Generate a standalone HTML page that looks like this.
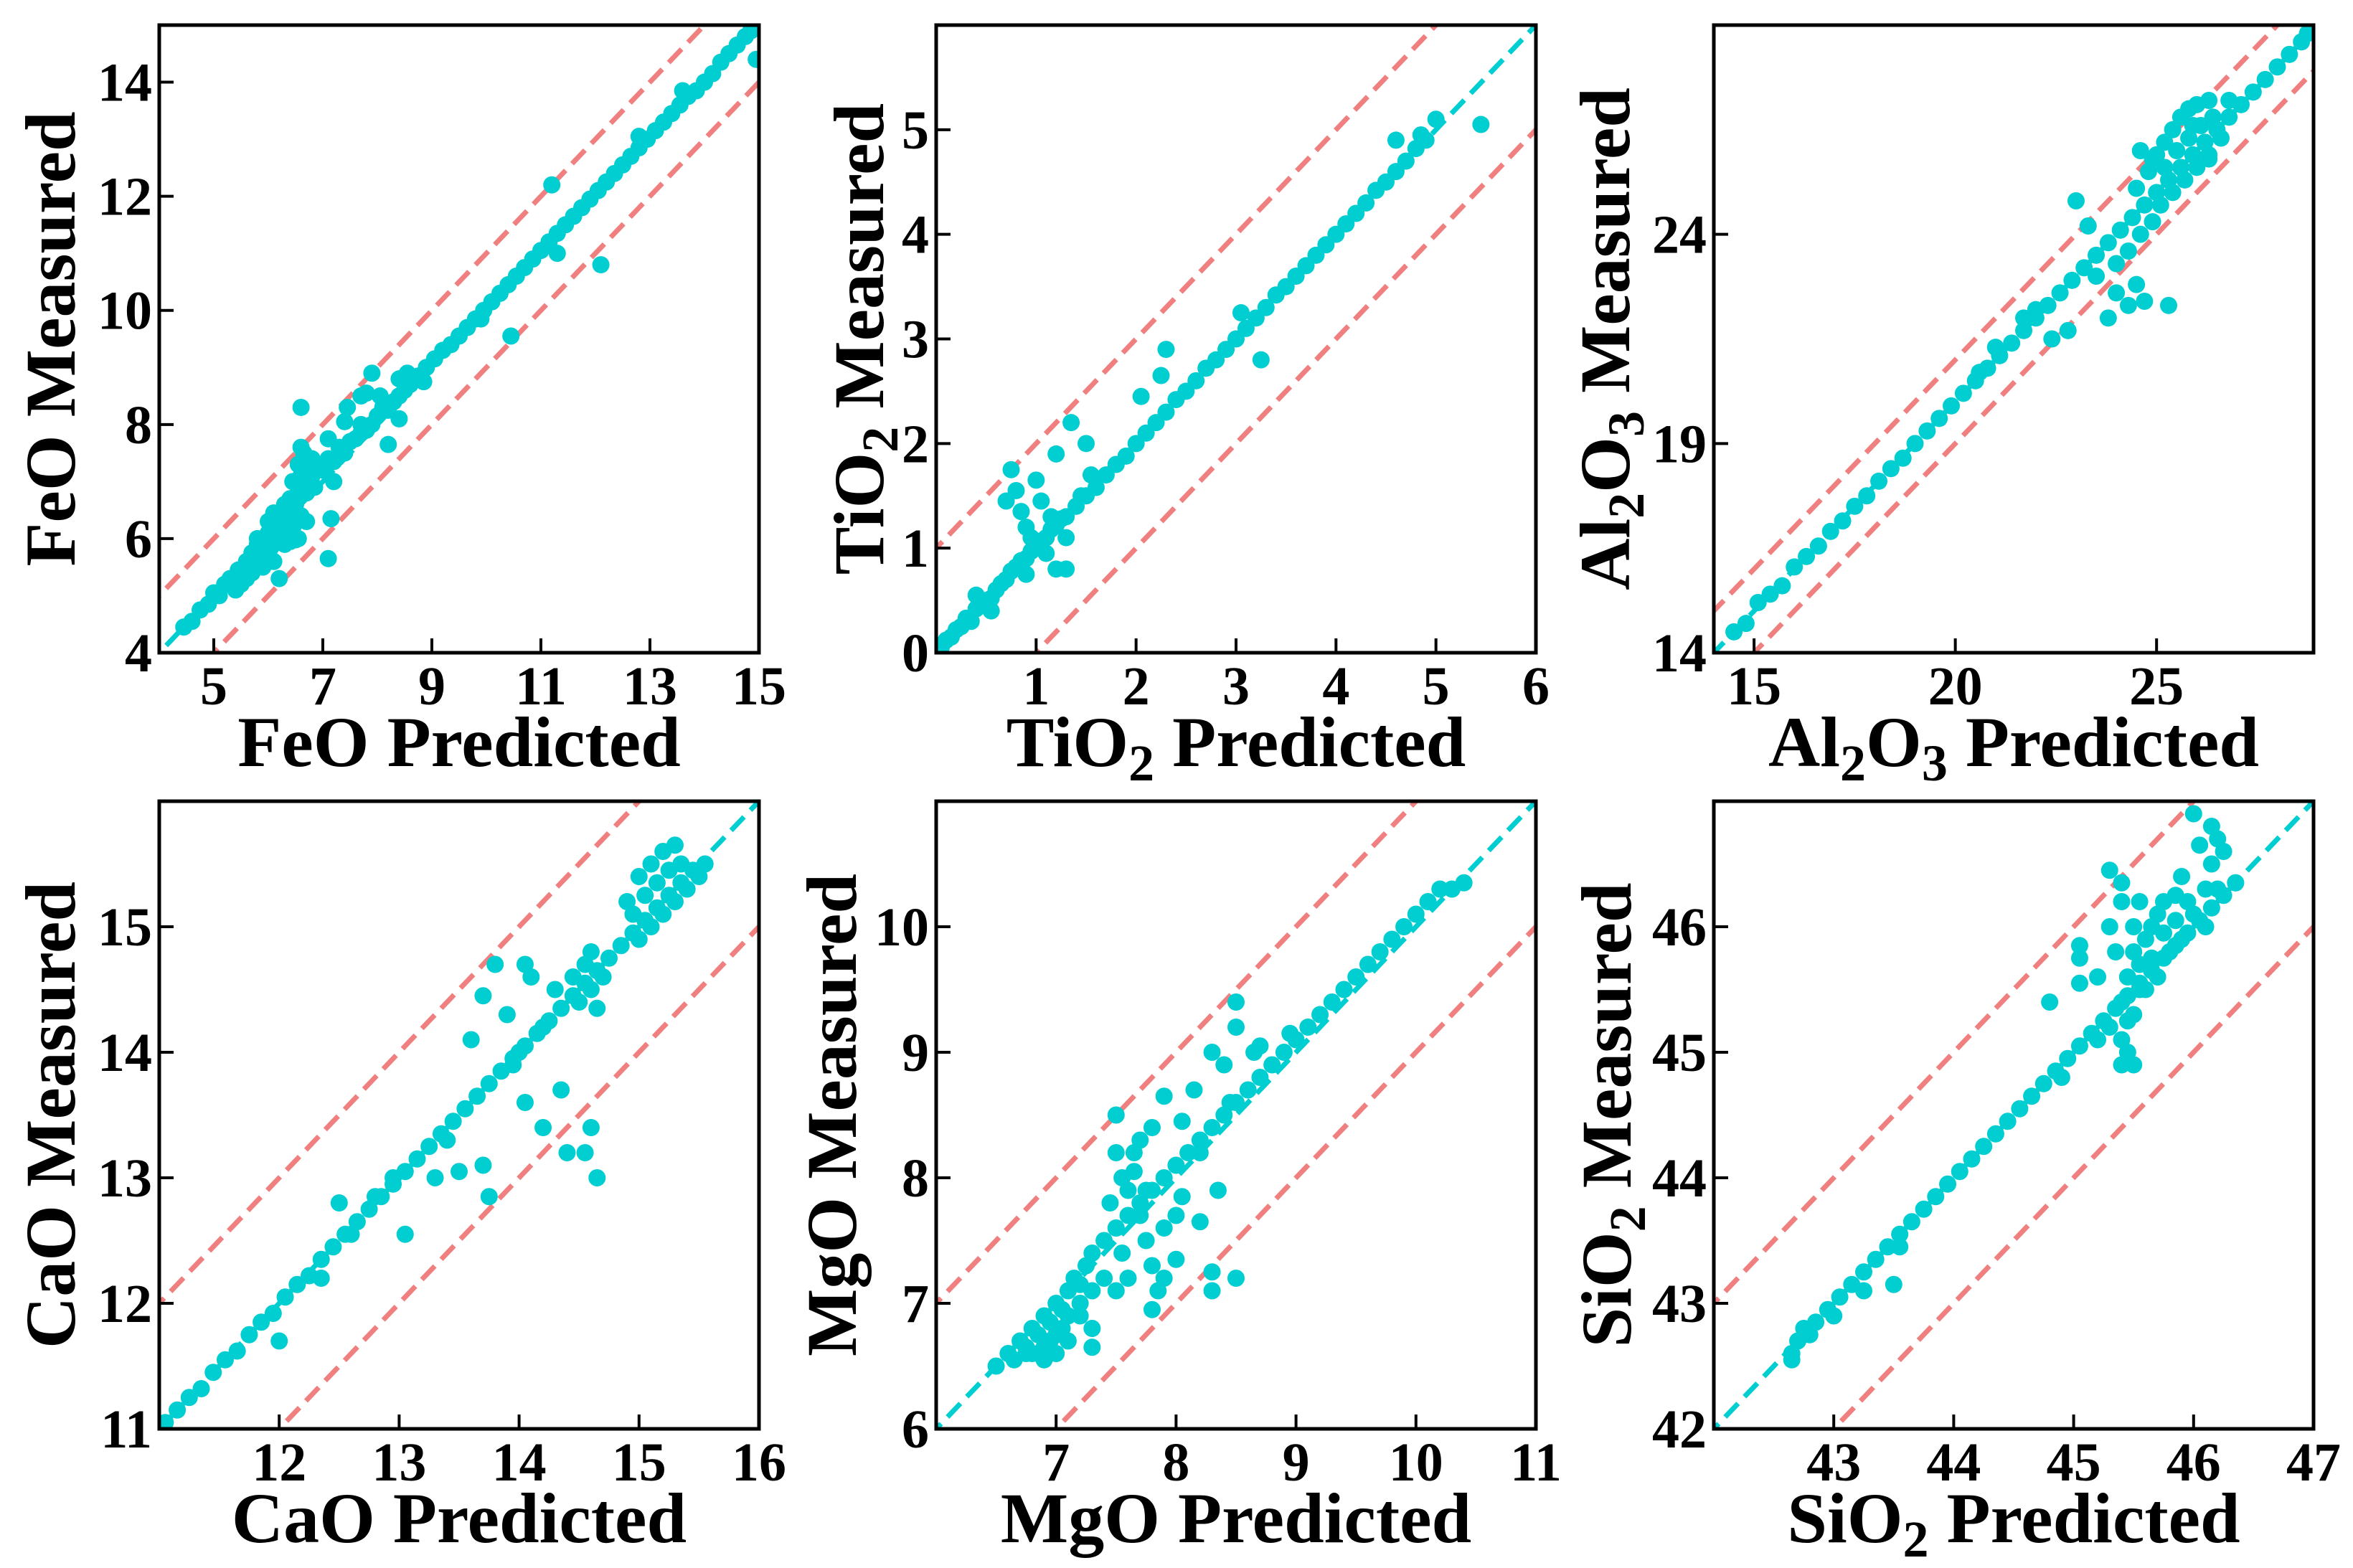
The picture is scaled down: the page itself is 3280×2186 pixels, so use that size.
<!DOCTYPE html>
<html><head><meta charset="utf-8"><style>
html,body{margin:0;padding:0;background:#fff;overflow:hidden;}
svg{display:block;}
text{font-family:"Liberation Serif",serif;font-weight:bold;fill:#000;}
</style></head><body>
<svg id="fig" width="3280" height="2186" viewBox="0 0 3280 2186" xmlns="http://www.w3.org/2000/svg"></svg>
<script>
const feoPoints=[[4.45,4.45],[4.6,4.55],[4.75,4.75],[4.9,4.85],[5.0,5.05],[5.1,5.0],[5.2,5.2],[5.3,5.3],[5.35,5.2],[5.45,5.45],[5.5,5.35],[5.6,5.6],[5.65,5.45],[5.7,5.75],[5.75,5.55],[5.8,5.9],[5.85,5.65],[5.9,6.0],[5.95,5.8],[6.0,6.1],[6.05,5.85],[6.1,6.2],[6.15,5.95],[6.2,6.3],[6.25,6.05],[6.3,6.35],[6.35,6.1],[6.4,6.5],[6.45,6.2],[6.5,6.6],[6.55,6.9],[6.6,7.1],[6.55,7.3],[6.65,7.5],[6.6,7.0],[6.7,6.8],[6.75,7.2],[6.8,7.4],[6.85,6.9],[6.9,7.3],[7.0,7.2],[7.1,7.4],[7.2,7.35],[7.3,7.6],[7.4,7.5],[7.5,7.7],[7.6,7.75],[7.7,7.85],[7.8,7.9],[7.9,8.0],[8.0,8.15],[8.1,8.3],[8.2,8.25],[8.3,8.4],[8.4,8.5],[8.5,8.6],[8.6,8.7],[8.75,8.85],[8.9,9.0],[9.05,9.15],[9.2,9.3],[9.35,9.4],[9.5,9.55],[9.65,9.7],[9.8,9.85],[9.95,10.0],[10.1,10.15],[10.25,10.3],[10.4,10.45],[10.55,10.6],[10.7,10.75],[10.85,10.9],[11.0,11.05],[11.15,11.2],[11.3,11.35],[11.45,11.5],[11.6,11.65],[11.75,11.8],[11.9,11.95],[12.05,12.1],[12.2,12.25],[12.35,12.4],[12.5,12.55],[12.65,12.7],[12.8,12.85],[12.95,13.0],[13.1,13.15],[13.25,13.3],[13.4,13.45],[13.55,13.6],[13.7,13.75],[13.85,13.85],[14.0,14.0],[14.15,14.15],[14.3,14.35],[14.45,14.5],[14.6,14.65],[14.75,14.8],[14.85,14.9],
[5.5,5.2],[5.7,5.4],[6.0,5.7],[6.3,5.9],[6.4,5.95],[5.8,6.0],[6.0,6.3],[6.2,6.4],[6.4,6.7],[6.6,6.4],[6.7,6.3],[6.45,7.0],[6.6,7.6],[6.7,7.4],[6.8,7.1],[5.4,5.1],[5.6,5.3],[5.9,5.5],[6.1,5.6],[6.3,6.6],[6.1,6.45],[6.5,6.3],[6.55,6.0],
[6.6,8.3],[7.9,8.9],[8.4,8.8],[8.55,8.9],[7.7,8.5],[7.8,8.55],[7.45,8.3],[7.4,8.05],[7.1,7.75],[7.7,8.0],[8.2,7.65],[7.1,5.65],[6.2,5.3],[7.15,6.35],[6.5,5.98],[10.45,9.55],[11.2,12.2],[12.1,10.8],[14.95,14.4],[8.85,8.75],[11.3,11.0],[9.9,9.85],[8.05,8.5],[8.4,8.1],[12.8,13.05],[13.6,13.85],[7.2,7.0]];
const tioPoints=[[0.05,0.05],[0.1,0.12],[0.15,0.15],[0.2,0.22],[0.25,0.25],[0.3,0.33],[0.35,0.3],[0.4,0.42],[0.45,0.45],[0.5,0.5],[0.55,0.52],[0.6,0.6],[0.65,0.66],[0.7,0.7],[0.75,0.78],[0.8,0.82],[0.85,0.88],[0.9,0.9],[0.95,0.97],[1.0,1.0],[1.05,1.07],[1.1,1.1],[1.15,1.18],[1.2,1.22],[1.25,1.28],[1.3,1.3],[1.4,1.4],[1.5,1.5],[1.6,1.58],[1.7,1.7],[1.8,1.8],[1.9,1.88],[2.0,2.0],[2.1,2.1],[2.2,2.2],[2.3,2.3],[2.4,2.42],[2.5,2.5],[2.6,2.6],[2.7,2.72],[2.8,2.8],[2.9,2.9],[3.0,3.0],[3.1,3.1],[3.2,3.2],[3.3,3.3],[3.4,3.42],[3.5,3.5],[3.6,3.6],[3.7,3.7],[3.8,3.8],[3.9,3.9],[4.0,4.0],[4.1,4.1],[4.2,4.2],[4.3,4.3],[4.4,4.42],[4.5,4.5],[4.6,4.6],[4.7,4.7],[4.8,4.82],[4.9,4.9],
[0.75,1.75],[0.8,1.55],[0.85,1.35],[0.7,1.45],[0.9,1.2],[1.0,1.65],[1.05,1.45],[0.9,0.75],[1.2,0.8],[1.3,0.8],[1.35,2.2],[1.2,1.9],[1.45,1.5],[1.3,1.1],[0.95,1.1],[1.1,0.95],[1.15,1.3],[2.3,2.9],[2.25,2.65],[2.05,2.45],[3.25,2.8],[4.6,4.9],[4.85,4.95],[5.0,5.1],[5.45,5.05],[0.55,0.4],[0.4,0.55],[1.5,2.0],[1.55,1.7],[3.05,3.25]];
const alPoints=[[14.5,14.5],[14.8,14.7],[15.1,15.2],[15.4,15.4],[15.7,15.6],[16.0,16.05],[16.3,16.3],[16.6,16.55],[16.9,16.9],[17.2,17.15],[17.5,17.5],[17.8,17.75],[18.1,18.1],[18.4,18.4],[18.7,18.65],[19.0,19.0],[19.3,19.3],[19.6,19.6],[19.9,19.9],[20.2,20.2],[20.5,20.5],[20.8,20.8],[21.1,21.1],[21.4,21.4],[21.7,21.7],[22.0,22.0],[22.3,22.3],[22.6,22.6],[22.9,22.9],[23.2,23.2],[23.5,23.5],[23.8,23.8],[24.1,24.1],[24.4,24.4],[24.7,24.7],[25.0,25.0],[25.3,25.3],[25.6,25.6],[25.9,25.9],[26.2,26.2],[26.5,26.5],[26.8,26.8],[27.1,27.1],[27.4,27.4],[27.7,27.7],[28.0,28.0],[28.3,28.3],[28.6,28.6],[28.75,28.8],
[24.5,25.1],[24.8,25.5],[25.0,25.9],[25.2,26.2],[25.4,26.5],[25.6,26.8],[25.8,27.0],[26.0,27.1],[26.3,27.2],[25.1,24.7],[25.4,25.0],[25.7,25.3],[26.0,25.6],[26.3,25.9],[26.6,26.3],[25.5,26.0],[25.8,26.3],[26.1,26.6],[26.4,26.8],[24.9,24.3],[24.6,24.0],[24.3,23.6],[26.8,27.2],[25.2,25.6],[25.9,26.6],
[24.0,22.6],[24.3,22.3],[24.5,22.8],[24.7,22.4],[25.3,22.3],[24.0,23.3],[23.8,22.0],[22.4,21.5],[22.8,21.7],[21.7,22.0],[24.9,25.8],[23.0,24.8],[23.3,24.2],[20.6,20.7],[22.0,22.2],[24.6,26.0],[23.5,23.0],[21.0,21.3],[26.3,25.8]];
const caoPoints=[[11.05,11.05],[11.15,11.15],[11.25,11.25],[11.35,11.32],[11.45,11.45],[11.55,11.55],[11.65,11.62],[11.75,11.75],[11.85,11.85],[11.95,11.92],[12.05,12.05],[12.15,12.15],[12.25,12.22],[12.35,12.35],[12.45,12.45],[12.55,12.55],[12.65,12.65],[12.75,12.75],[12.85,12.85],[12.95,12.95],[13.05,13.05],[13.15,13.15],[13.25,13.25],[13.35,13.35],[13.45,13.45],[13.55,13.55],[13.65,13.65],[13.75,13.75],[13.85,13.85],[13.95,13.95],[14.05,14.05],[14.15,14.15],[14.25,14.25],[14.35,14.35],[14.45,14.45],[14.55,14.55],[14.65,14.65],[14.75,14.75],[14.85,14.85],[14.95,14.95],[15.05,15.05],[15.15,15.15],[15.25,15.25],[15.35,15.35],[15.45,15.45],[15.55,15.5],
[14.45,14.6],[14.55,14.7],[14.6,14.5],[14.7,14.6],[14.5,14.4],[14.65,14.35],[14.6,14.8],[14.9,15.2],[15.0,15.4],[15.1,15.5],[15.2,15.6],[15.3,15.65],[15.0,14.9],[15.1,15.0],[15.2,15.1],[15.3,15.2],[15.4,15.3],[15.15,15.35],[15.25,15.45],[14.95,15.1],[15.35,15.5],[15.05,15.25],[15.5,15.4],
[13.8,14.7],[14.05,14.7],[14.1,14.6],[13.9,14.3],[13.7,14.45],[13.6,14.1],[14.2,14.2],[13.95,13.9],[14.05,13.6],[14.35,13.7],[14.4,13.2],[14.55,13.2],[14.6,13.4],[14.65,13.0],[13.5,13.05],[13.7,13.1],[13.75,12.85],[13.3,13.0],[13.05,12.55],[12.8,12.85],[12.6,12.55],[12.95,13.0],[12.0,11.7],[12.35,12.2],[14.2,13.4],[14.0,14.0],[13.4,13.3],[14.3,14.5],[12.5,12.8]];
const mgoPoints=[[6.5,6.5],[6.6,6.6],[6.65,6.55],[6.7,6.7],[6.75,6.65],[6.8,6.8],[6.85,6.6],[6.9,6.9],[6.95,6.7],[7.0,7.0],[7.05,6.8],[7.1,7.1],[6.8,6.6],[6.9,6.55],[7.0,6.6],[7.1,6.9],[7.15,7.2],[7.2,7.0],[7.25,7.3],[7.3,7.4],[7.4,7.5],[7.5,7.6],[7.6,7.7],[7.7,7.8],[7.8,7.9],[7.9,8.0],[8.0,8.1],[8.1,8.2],[8.2,8.3],[8.3,8.4],[8.4,8.5],[8.5,8.6],[8.6,8.7],[8.7,8.8],[8.8,8.9],[8.9,9.0],[9.0,9.1],[9.1,9.2],[9.2,9.3],[9.3,9.4],[9.4,9.5],[9.5,9.6],[9.6,9.7],[9.7,9.8],[9.8,9.9],[9.9,10.0],[10.0,10.1],[10.1,10.2],[10.2,10.3],[10.3,10.3],[10.4,10.35],
[6.75,6.6],[6.85,6.75],[6.95,6.85],[7.05,6.95],[7.1,6.7],[7.2,7.15],[7.0,6.75],[6.9,6.65],
[7.5,8.5],[7.5,8.2],[7.55,8.0],[7.45,7.8],[7.5,7.6],[7.55,7.4],[7.6,7.9],[7.65,8.05],[7.7,7.7],[7.75,7.5],[7.8,7.3],[7.85,7.1],[7.6,7.2],[7.5,7.1],[7.4,7.2],[7.3,7.1],[7.2,6.9],[7.3,6.8],[7.3,6.65],[7.8,6.95],[7.9,7.2],[8.0,7.35],[7.9,7.6],[8.0,7.7],[8.05,7.85],[8.2,7.65],[8.35,7.9],[8.3,7.25],[8.3,7.1],[8.5,7.2],[7.7,8.3],[7.8,8.4],[7.9,8.65],[8.15,8.7],[8.05,8.45],[8.3,9.0],[8.4,8.9],[8.5,9.4],[8.5,9.2],[8.45,8.6],[8.65,9.0],[8.7,9.05],[8.95,9.15],[7.65,8.2],[7.75,7.9],[8.2,8.2]];
const sioPoints=[[42.65,42.6],[42.7,42.7],[42.75,42.8],[42.85,42.85],[42.95,42.95],[43.05,43.05],[43.15,43.15],[43.25,43.25],[43.35,43.35],[43.45,43.45],[43.55,43.55],[43.65,43.65],[43.75,43.75],[43.85,43.85],[43.95,43.95],[44.05,44.05],[44.15,44.15],[44.25,44.25],[44.35,44.35],[44.45,44.45],[44.55,44.55],[44.65,44.65],[44.75,44.75],[44.85,44.85],[44.95,44.95],[45.05,45.05],[45.15,45.15],[45.25,45.25],[45.35,45.35],[45.45,45.45],[45.55,45.55],[45.65,45.65],[45.75,45.75],[45.85,45.85],[45.95,45.95],[46.05,46.05],[46.15,46.15],[46.25,46.25],[46.35,46.35],
[42.65,42.55],[42.8,42.75],[43.0,42.9],[43.5,43.15],[43.55,43.45],[43.25,43.1],
[45.4,45.1],[45.45,45.0],[45.4,44.9],[45.5,44.9],[45.3,45.2],[45.4,45.4],[45.45,45.6],[45.5,45.8],[45.55,45.7],[45.6,45.9],[45.65,46.0],[45.7,46.1],[45.5,45.3],[45.6,45.5],[45.7,45.6],[45.8,45.8],[45.9,45.9],[46.0,46.1],[46.1,46.0],[46.2,46.3],[46.15,46.5],[46.2,46.7],[46.15,46.8],[46.05,46.65],[46.0,46.9],[46.25,46.6],[45.9,46.4],[45.85,46.25],[45.75,46.2],[45.55,46.2],[45.5,46.0],[45.3,46.0],[45.3,46.45],[45.4,46.35],[45.35,45.8],[45.05,45.85],[45.05,45.75],[45.05,45.55],[45.2,45.6],[44.8,45.4],[45.4,46.2],[45.2,45.1],[44.9,44.8],[46.35,46.35],[45.45,45.25],[45.55,45.5],[45.65,45.75],[45.75,45.95],[45.85,46.05],[45.95,46.2],[46.1,46.3]];

const cyan="#00CED1", red="#F08080";
const svg=document.getElementById('fig');
const NS="http://www.w3.org/2000/svg";
function mk(tag,attrs,parent){const e=document.createElementNS(NS,tag);for(const k in attrs)e.setAttribute(k,attrs[k]);parent.appendChild(e);return e;}
const lefts=[222,1305,2389], tops=[35,1117], W=836, H=875;
const panels=[
 {name:'feo',pts:feoPoints,xd:[4,15],yd:[4,15],xt:[5,7,9,11,13,15],yt:[4,6,8,10,12,14],lab:['FeO'],col:0,row:0,yoff:152},
 {name:'tio2',pts:tioPoints,xd:[0,6],yd:[0,6],xt:[1,2,3,4,5,6],yt:[0,1,2,3,4,5],lab:['TiO','2'],col:1,row:0,yoff:108},
 {name:'al2o3',pts:alPoints,xd:[14,28.9],yd:[14,29],xt:[15,20,25],yt:[14,19,24],lab:['Al','2','O','3'],col:2,row:0,yoff:152},
 {name:'cao',pts:caoPoints,xd:[11,16],yd:[11,16],xt:[12,13,14,15,16],yt:[11,12,13,14,15],lab:['CaO'],col:0,row:1,yoff:152},
 {name:'mgo',pts:mgoPoints,xd:[6,11],yd:[6,11],xt:[7,8,9,10,11],yt:[6,7,8,9,10],lab:['MgO'],col:1,row:1,yoff:146},
 {name:'sio2',pts:sioPoints,xd:[42,47],yd:[42,47],xt:[43,44,45,46,47],yt:[42,43,44,45,46],lab:['SiO','2'],col:2,row:1,yoff:150}
];
function addLabel(t,parts,suffix){
  let sub=false;
  parts.forEach((p,i)=>{const ts=mk('tspan',{},t);ts.textContent=p;
    if(i%2===1){ts.setAttribute('dy','20');ts.setAttribute('font-size','72');sub=true;}
    else if(sub){ts.setAttribute('dy','-20');sub=false;}});
  const ts=mk('tspan',{},t);ts.textContent=suffix;if(sub)ts.setAttribute('dy','-20');
}
panels.forEach(p=>{
  const L=lefts[p.col],T=tops[p.row];
  const g=mk('g',{},svg);
  
  
  const sx=v=>L+(v-p.xd[0])/(p.xd[1]-p.xd[0])*W;
  const sy=v=>T+H-(v-p.yd[0])/(p.yd[1]-p.yd[0])*H;
  const cp=mk('clipPath',{id:'c'+p.name},g);mk('rect',{x:L,y:T,width:W,height:H},cp);
  const plot=mk('g',{'clip-path':'url(#c'+p.name+')'},g);
  const lo=Math.min(p.xd[0],p.yd[0])-2, hi=Math.max(p.xd[1],p.yd[1])+2;
  [[1,red,'upper-error-line'],[-1,red,'lower-error-line'],[0,cyan,'identity-line']].forEach(([o,c,n])=>{
    const ln=mk('line',{x1:sx(lo),y1:sy(lo+o),x2:sx(hi),y2:sy(hi+o),stroke:c,'stroke-width':7,'stroke-dasharray':'26 13'},plot);
    
    
  });
  p.pts.forEach(d=>{
    const c=mk('circle',{cx:sx(d[0]),cy:sy(d[1]),r:12,fill:cyan},plot);
    
    
  });
  const fr=mk('rect',{x:L,y:T,width:W,height:H,fill:'none',stroke:'#000','stroke-width':5},g);
  
  
  p.xt.forEach(v=>{
    mk('line',{x1:sx(v),y1:T+H,x2:sx(v),y2:T+H-20,stroke:'#000','stroke-width':4},g);
    const t=mk('text',{x:sx(v),y:T+H+72,'text-anchor':'middle','font-size':76},g);
    t.textContent=v;
    
    
  });
  p.yt.forEach(v=>{
    mk('line',{x1:L,y1:sy(v),x2:L+20,y2:sy(v),stroke:'#000','stroke-width':4},g);
    const t=mk('text',{x:L-10,y:sy(v)+26,'text-anchor':'end','font-size':76},g);
    t.textContent=v;
    
    
  });
  const xt=mk('text',{x:L+W/2,y:T+H+158,'text-anchor':'middle','font-size':100},g);
  addLabel(xt,p.lab,' Predicted');
  
  
  const cx=L-p.yoff, cy=T+H/2;
  const yt=mk('text',{x:cx,y:cy+34,'text-anchor':'middle','font-size':100,transform:`rotate(-90 ${cx} ${cy})`},g);
  addLabel(yt,p.lab,' Measured');
  
  
});
</script>
</body></html>
